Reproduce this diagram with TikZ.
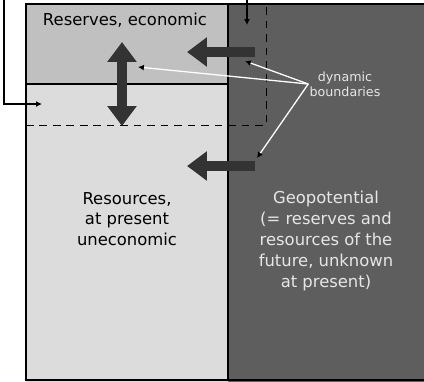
\documentclass[tikz,border=0pt]{standalone}
\usepackage{fontspec}
\setmainfont{DejaVu Sans}
\usetikzlibrary{arrows.meta, positioning}
\definecolor{reservegray}{HTML}{C0C0C0}
\definecolor{resourcegray}{HTML}{DCDCDC}
\definecolor{geogray}{HTML}{5E5E5E}
\definecolor{arrowgray}{HTML}{333333}
\definecolor{lighttext}{HTML}{E6E6E6}

\begin{document}
\begin{tikzpicture}[x=0.03cm, y=-0.03cm,
  label/.style={align=center, inner sep=0pt, font=\fontsize{14}{17.8}\selectfont},
  smalllabel/.style={align=center, inner sep=1pt, text=lighttext, font=\fontsize{10.8}{12.8}\selectfont},
  bigarrow/.style={draw=arrowgray, line width=8.5pt, >={Triangle[width=24pt,length=17pt]}},
  pointer/.style={draw=white, line width=1.1pt, -{Latex[length=5pt,width=5pt,color=black]}},
  connector/.style={draw=black, line width=0.9pt, {Latex[length=5pt,width=5pt]}-{Latex[length=5pt,width=5pt]}}]

\useasboundingbox (0,0) rectangle (424,381);
\clip (0,0) rectangle (424,381);

% REGIONS

\fill[reservegray] (26,4) rectangle (228,84);
\fill[resourcegray] (26,84) rectangle (228,385);
\fill[geogray] (228,4) rectangle (430,385);
\draw[line width=1.5pt] (26,4) rectangle (430,380);
\draw[line width=1.2pt] (228,4) -- (228,380);
\draw[line width=1.2pt] (26,84) -- (228,84);
\draw[line width=0.8pt, dash pattern=on 6.5pt off 5pt] (26,125) -- (266,125) -- (266,4);

% LABELS

\node[label] (reserves) at (125,20) {Reserves, economic};
\node[label] (resources) at (127,219) {Resources,\\at present\\uneconomic};
\node[label, text=lighttext] (geopotential) at (326,241) {Geopotential\\(= reserves and\\resources of the\\future, unknown\\at present)};
\node[smalllabel] (dynamic) at (345,84) {dynamic\\boundaries};

% MOVING BOUNDARIES

\draw[bigarrow, <->] (122,42) -- (122,126);
\draw[bigarrow, ->] (255,52) -- (187,52);
\draw[bigarrow, ->] (255,166) -- (187,166);

% POINTERS

\coordinate (upper) at (138,67);
\coordinate (lower) at (245,61);
\coordinate (bottom) at (257,158);
\draw[pointer] (dynamic.west) -- (upper);
\draw[pointer] (dynamic.west) -- (lower);
\draw[pointer] (dynamic.west) -- (bottom);

% CONNECTOR

\coordinate (topend) at (247,25);
\coordinate (leftend) at (42,104);
\draw[connector] (topend) -- (247,-10) -| (4,104) -- (leftend);

\end{tikzpicture}
\end{document}
